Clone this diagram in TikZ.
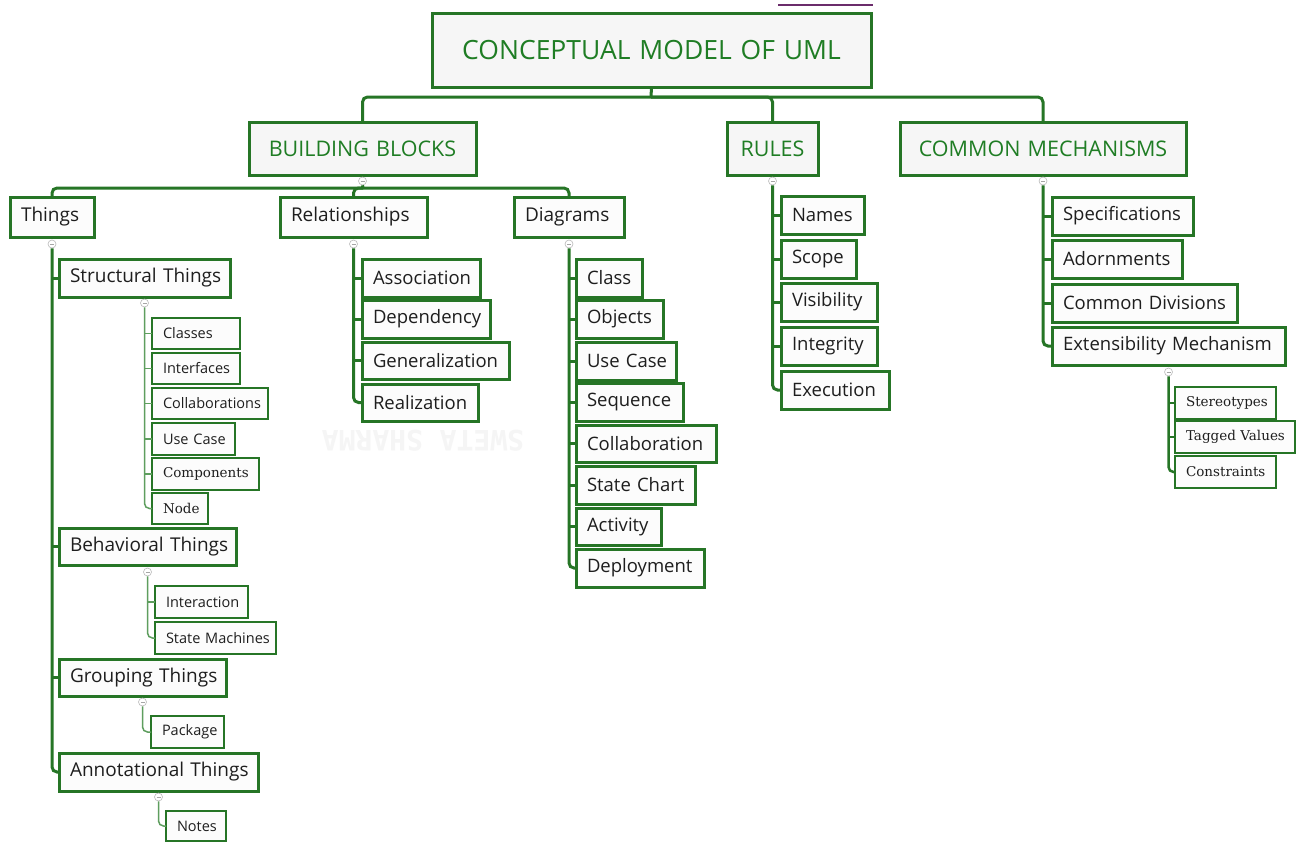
\documentclass[tikz,border=0pt]{standalone}
\usepackage{fontspec}
\setmainfont{Open Sans}
\newfontfamily\slab{DejaVu Serif}
\newfontfamily\wmfont{DejaVu Sans Mono}
\definecolor{gline}{HTML}{267526}
\definecolor{glight}{HTML}{5E9E5E}
\definecolor{gtext}{HTML}{1F7D24}
\definecolor{dtext}{HTML}{1E1E1E}
\definecolor{bfill}{HTML}{FCFCFC}
\definecolor{tfill}{HTML}{F6F6F6}
\definecolor{purp}{HTML}{6B2C6B}
\newcommand\fs[1]{\fontsize{#1bp}{#1bp}\selectfont}
% #1 style, #2 name, #3 x1, #4 y1, #5 x2, #6 y2, #7 text
\newcommand\bx[7][]{%
  \pgfmathsetmacro\bxw{#5-#3}\pgfmathsetmacro\bxh{#6-#4}%
  \node[box,#1,anchor=north west,text width=\bxw bp,minimum height=\bxh bp] (#2) at (#3,#4) {\hspace*{11bp}\raisebox{-1.2bp}{#7}};}
\newcommand\hx[7][]{%
  \pgfmathsetmacro\bxw{#5-#3}\pgfmathsetmacro\bxh{#6-#4}%
  \node[box,#1,anchor=north west,text width=\bxw bp,minimum height=\bxh bp,align=center] (#2) at (#3,#4) {\raisebox{-1.2bp}{#7}};}
\tikzset{
  box/.style={draw=gline,line width=3bp,fill=bfill,inner xsep=0pt,inner ysep=0pt,outer sep=0pt,align=left,text=dtext,font=\fs{18.5}},
  head/.style={fill=tfill,text=gtext,font=\fs{21.5}},
  small/.style={line width=2bp,font=\fs{14.5}},
  slabsmall/.style={line width=2bp,font=\slab\fs{13.5}},
  conn/.style={draw=gline,line width=3bp,rounded corners=5bp},
  thin/.style={draw=glight,line width=1.5bp,rounded corners=5bp},
  mid/.style={draw=gline,line width=2.5bp,rounded corners=5bp},
  coll/.style={circle,draw=gray!55,fill=white,line width=0.6bp,minimum size=8bp,inner sep=0pt,
    path picture={\draw[gray!70,line width=0.6bp] ([xshift=-2bp]path picture bounding box.center) -- ([xshift=2bp]path picture bounding box.center);}},
}
\begin{document}
\begin{tikzpicture}[x=1bp,y=-1bp]
\useasboundingbox[fill=white] (0,0) rectangle (1304,842);
% faint watermark
\node[text=gray!8,font=\wmfont\bfseries\fs{28},rotate=180] (wm) at (423,441) {SWETA SHARMA};
% purple mark at top
\draw[purp,line width=2bp] (778,5) -- (873,5);

% ---------- boxes ----------
\hx[head,fill=tfill,font=\fs{26.5}]{title}{432}{13}{871}{87}{CONCEPTUAL MODEL OF UML}
\hx[head]{bb}{249}{122}{476}{175}{BUILDING BLOCKS}
\hx[head]{rules}{727}{122}{818}{175}{RULES}
\hx[head]{cm}{900}{122}{1186}{175}{COMMON MECHANISMS}

\bx[font=\fs{19}]{things}{10}{197}{94}{237}{Things}
\bx[font=\fs{19}]{rel}{280}{197}{427}{237}{Relationships}
\bx[font=\fs{19}]{diag}{514}{197}{624}{237}{Diagrams}

\bx[font=\fs{19}]{st}{59}{259}{230}{297}{Structural Things}
\bx[font=\fs{19}]{bt}{59}{528}{236}{565}{Behavioral Things}
\bx[font=\fs{19}]{gt}{59}{659}{226}{696}{Grouping Things}
\bx[font=\fs{19}]{at}{59}{753}{258}{791}{Annotational Things}

\bx[small]{classes}{152}{318}{240}{349}{Classes}
\bx[small]{interf}{152}{353}{240}{384}{Interfaces}
\bx[small]{collabs}{152}{388}{268}{419}{Collaborations}
\bx[small]{ucase}{152}{423}{235}{455}{Use Case}
\bx[slabsmall]{comps}{152}{458}{259}{490}{Components}
\bx[slabsmall]{nodeb}{152}{493}{208}{524}{Node}

\bx[small]{inter}{155}{586}{248}{618}{Interaction}
\bx[small]{sm}{155}{622}{276}{654}{State Machines}
\bx[small]{pkg}{151}{716}{224}{748}{Package}
\bx[small]{notes}{166}{811}{226}{841}{Notes}

\bx{assoc}{362}{259}{480}{297}{Association}
\bx{dep}{362}{300}{490}{338}{Dependency}
\bx{gen}{362}{342}{509}{379}{Generalization}
\bx{real}{362}{384}{478}{421}{Realization}

\bx{dclass}{576}{259}{642}{297}{Class}
\bx{dobj}{576}{300}{663}{338}{Objects}
\bx{duc}{576}{342}{676}{380}{Use Case}
\bx{dseq}{576}{383}{683}{421}{Sequence}
\bx{dcoll}{576}{425}{716}{462}{Collaboration}
\bx{dstc}{576}{466}{695}{504}{State Chart}
\bx{dact}{576}{508}{661}{545}{Activity}
\bx{ddep}{576}{549}{704}{587}{Deployment}

\bx{names}{781}{196}{864}{234}{Names}
\bx{scope}{781}{240}{856}{278}{Scope}
\bx{vis}{781}{283}{877}{321}{Visibility}
\bx{integ}{781}{327}{877}{365}{Integrity}
\bx{exec}{781}{371}{889}{409}{Execution}

\bx{spec}{1052}{197}{1193}{235}{Specifications}
\bx{adorn}{1052}{240}{1182}{278}{Adornments}
\bx{cdiv}{1052}{284}{1237}{322}{Common Divisions}
\bx{ext}{1052}{327}{1285}{365}{Extensibility Mechanism}

\bx[slabsmall]{stereo}{1175}{387}{1276}{419}{Stereotypes}
\bx[slabsmall]{tagged}{1175}{421}{1295}{453}{Tagged Values}
\bx[slabsmall]{constr}{1175}{456}{1276}{488}{Constraints}

% ---------- connectors ----------
\coordinate (j1) at (651,97);
\draw[conn] (title.south) -- (j1);
\draw[conn] (j1) -| (bb.north);
\draw[conn] (j1) -| (rules.north);
\draw[conn] (j1) -| (cm.north);

\node[coll] (cbb) at ([yshift=-6bp]bb.south) {};
\coordinate (j2) at (363,188);
\draw[conn] (cbb.south) -- (j2);
\draw[conn] (j2) -| (things.north);
\draw[conn] (j2) -| (rel.north);
\draw[conn] (j2) -| (diag.north);

% Things
\node[coll] (cth) at ([yshift=-7bp]things.south) {};
\draw[conn] (cth.south) |- (at.west);
\foreach \c in {st,bt,gt} \draw[conn] (cth.south |- \c.west) -- (\c.west);
% Structural
\node[coll] (cst) at ([yshift=-6bp]st.south) {};
\draw[thin] (cst.south) |- (nodeb.west);
\foreach \c in {classes,interf,collabs,ucase,comps} \draw[thin] (cst.south |- \c.west) -- (\c.west);
% Behavioral
\node[coll] (cbt) at ([yshift=-7bp]bt.south) {};
\draw[thin] (cbt.south) |- (sm.west);
\draw[thin] (cbt.south |- inter.west) -- (inter.west);
% Grouping
\node[coll] (cgt) at ([yshift=-6bp]gt.south) {};
\draw[thin] (cgt.south) |- (pkg.west);
% Annotational
\node[coll] (cat) at ([yshift=-6bp]at.south) {};
\draw[thin] (cat.south) |- (notes.west);

% Relationships
\node[coll] (crel) at ([yshift=-7bp]rel.south) {};
\draw[conn] (crel.south) |- (real.west);
\foreach \c in {assoc,dep,gen} \draw[conn] (crel.south |- \c.west) -- (\c.west);
% Diagrams
\node[coll] (cdiag) at ([yshift=-7bp]diag.south) {};
\draw[conn] (cdiag.south) |- (ddep.west);
\foreach \c in {dclass,dobj,duc,dseq,dcoll,dstc,dact} \draw[conn] (cdiag.south |- \c.west) -- (\c.west);
% Rules
\node[coll] (cru) at ([yshift=-6bp]rules.south) {};
\draw[conn] (cru.south) |- (exec.west);
\foreach \c in {names,scope,vis,integ} \draw[conn] (cru.south |- \c.west) -- (\c.west);
% Common mechanisms
\node[coll] (ccm) at ([yshift=-6bp]cm.south) {};
\draw[conn] (ccm.south) |- (ext.west);
\foreach \c in {spec,adorn,cdiv} \draw[conn] (ccm.south |- \c.west) -- (\c.west);
% Extensibility
\node[coll] (cext) at ([yshift=-7bp]ext.south) {};
\draw[mid] (cext.south) |- (constr.west);
\foreach \c in {stereo,tagged} \draw[mid] (cext.south |- \c.west) -- (\c.west);
\end{tikzpicture}
\end{document}
